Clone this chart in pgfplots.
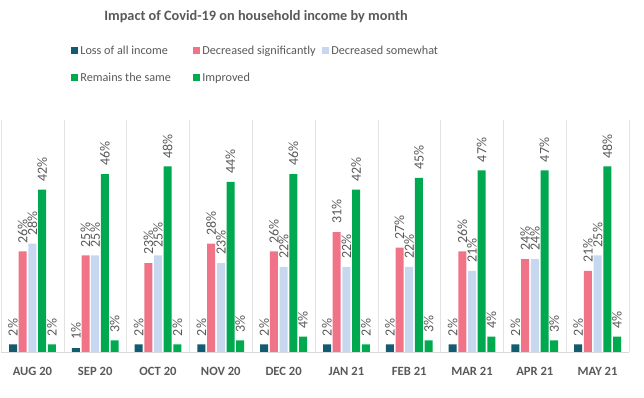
\documentclass[border=0pt]{standalone}
\usepackage{fontspec}
\setmainfont{Carlito}
\usepackage{pgfplots}
\pgfplotsset{compat=1.18}
\definecolor{loss}{HTML}{135B6F}
\definecolor{decsig}{HTML}{F07387}
\definecolor{decsom}{HTML}{C6D7EF}
\definecolor{same}{HTML}{00A94F}
\definecolor{impr}{HTML}{00AA4F}
\definecolor{txtgray}{HTML}{595959}
\pgfplotsset{legsq/.style={legend image code/.code={\fill[##1] (0pt,-3.5pt) rectangle (7pt,3.5pt);}}}
\begin{document}
\begin{tikzpicture}[x=1pt,y=1pt]
\path[use as bounding box] (0,0) rectangle (644,398);
\node[font=\fontsize{14.3}{17}\selectfont\bfseries, text=txtgray] at (256,381) {Impact of Covid-19 on household income by month};
\begin{axis}[
  at={(1pt,46pt)}, anchor=south west,
  scale only axis, width=628pt, height=232pt,
  ymin=0, ymax=60, xmin=-0.5, xmax=9.5,
  axis y line=none, axis x line*=bottom,
  x axis line style={draw=gray!30},
  ytick=\empty,
  xtick={0,...,9},
  xticklabels={AUG 20,SEP 20,OCT 20,NOV 20,DEC 20,JAN 21,FEB 21,MAR 21,APR 21,MAY 21},
  minor xtick={-0.5,0.5,...,9.5},
  xminorgrids, minor grid style={draw=gray!22, line width=0.6pt},
  major tick length=0pt, minor tick length=0pt,
  xticklabel style={font=\fontsize{12.6}{14}\selectfont\bfseries, text=txtgray, yshift=-12pt},
  ybar, bar width=8pt,
  /pgf/number format/assume math mode=true,
  nodes near coords={\pgfmathprintnumber{\pgfplotspointmeta}\%},
  every node near coord/.append style={rotate=90, anchor=west, font=\fontsize{14}{16}\selectfont, text=txtgray, inner sep=2pt, xshift=6pt},
  legend columns=3,
  legend cell align=left,
  legend style={draw=none, fill=none, at={(axis description cs:0.107,1.338)}, anchor=north west,
    font=\fontsize{12.2}{14}\selectfont, text=txtgray, row sep=13pt, column sep=0pt},
]
\addplot[fill=loss, draw=none, bar shift=-19.4pt, legsq] coordinates {(0,2) (1,1) (2,2) (3,2) (4,2) (5,2) (6,2) (7,2) (8,2) (9,2)};
\addlegendentry{\makebox[111pt][l]{Loss of all income}}
\addplot[fill=decsig, draw=none, bar shift=-9.7pt, legsq] coordinates {(0,26) (1,25) (2,23) (3,28) (4,26) (5,31) (6,27) (7,26) (8,24) (9,21)};
\addlegendentry{\makebox[118pt][l]{Decreased significantly}}
\addplot[fill=decsom, draw=none, bar shift=0pt, legsq] coordinates {(0,28) (1,25) (2,25) (3,23) (4,22) (5,22) (6,22) (7,21) (8,24) (9,25)};
\addlegendentry{Decreased somewhat}
\addplot[fill=same, draw=none, bar shift=9.7pt, legsq] coordinates {(0,42) (1,46) (2,48) (3,44) (4,46) (5,42) (6,45) (7,47) (8,47) (9,48)};
\addlegendentry{\makebox[111pt][l]{Remains the same}}
\addplot[fill=impr, draw=none, bar shift=19.4pt, legsq] coordinates {(0,2) (1,3) (2,2) (3,3) (4,4) (5,2) (6,3) (7,4) (8,3) (9,4)};
\addlegendentry{\makebox[118pt][l]{Improved}}
\end{axis}
\end{tikzpicture}
\end{document}
